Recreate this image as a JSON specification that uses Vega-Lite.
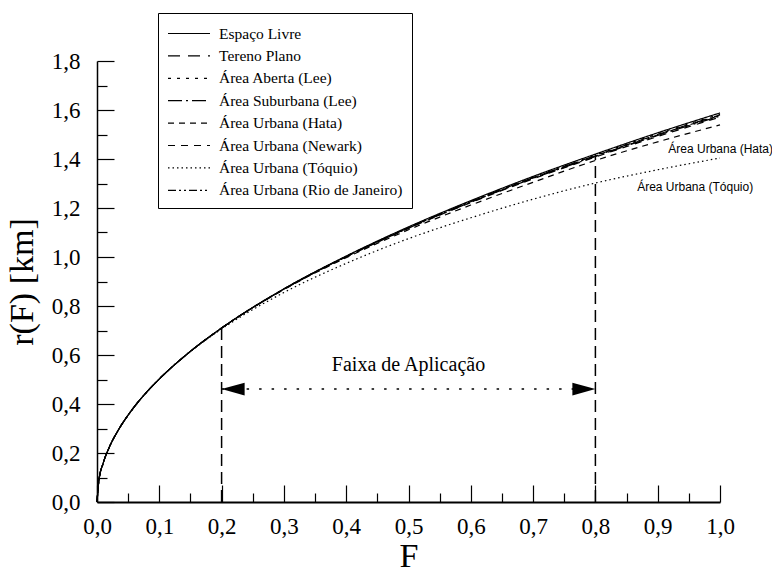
{
  "$schema": "https://vega.github.io/schema/vega-lite/v6.json",
  "width": 623,
  "height": 441,
  "autosize": {"type": "none"},
  "padding": {"left": 97, "top": 61, "right": 52, "bottom": 74},
  "background": "white",
  "config": {
    "view": {"stroke": null},
    "font": "Liberation Serif",
    "axis": {"grid": false, "tickColor": "black", "domainColor": "black", "labelColor": "black", "titleColor": "black"}
  },
  "datasets": {
    "curves": [
      {"F": 0, "s": "a", "r": 0}, {"F": 0.003, "s": "a", "r": 0.087}, {"F": 0.01, "s": "a", "r": 0.159}, {"F": 0.02, "s": "a", "r": 0.225}, {"F": 0.035, "s": "a", "r": 0.297}, {"F": 0.05, "s": "a", "r": 0.355}, {"F": 0.075, "s": "a", "r": 0.435}, {"F": 0.1, "s": "a", "r": 0.502}, {"F": 0.15, "s": "a", "r": 0.615}, {"F": 0.2, "s": "a", "r": 0.71}, {"F": 0.3, "s": "a", "r": 0.87}, {"F": 0.4, "s": "a", "r": 1.004}, {"F": 0.5, "s": "a", "r": 1.123}, {"F": 0.6, "s": "a", "r": 1.23}, {"F": 0.7, "s": "a", "r": 1.329}, {"F": 0.8, "s": "a", "r": 1.42}, {"F": 0.9, "s": "a", "r": 1.507}, {"F": 1.0, "s": "a", "r": 1.588},
      {"F": 0, "s": "b", "r": 0}, {"F": 0.003, "s": "b", "r": 0.087}, {"F": 0.01, "s": "b", "r": 0.159}, {"F": 0.02, "s": "b", "r": 0.225}, {"F": 0.035, "s": "b", "r": 0.297}, {"F": 0.05, "s": "b", "r": 0.355}, {"F": 0.075, "s": "b", "r": 0.435}, {"F": 0.1, "s": "b", "r": 0.502}, {"F": 0.15, "s": "b", "r": 0.615}, {"F": 0.2, "s": "b", "r": 0.71}, {"F": 0.3, "s": "b", "r": 0.869}, {"F": 0.4, "s": "b", "r": 1.002}, {"F": 0.5, "s": "b", "r": 1.12}, {"F": 0.6, "s": "b", "r": 1.226}, {"F": 0.7, "s": "b", "r": 1.324}, {"F": 0.8, "s": "b", "r": 1.414}, {"F": 0.9, "s": "b", "r": 1.5}, {"F": 1.0, "s": "b", "r": 1.58},
      {"F": 0, "s": "c", "r": 0}, {"F": 0.003, "s": "c", "r": 0.087}, {"F": 0.01, "s": "c", "r": 0.159}, {"F": 0.02, "s": "c", "r": 0.225}, {"F": 0.035, "s": "c", "r": 0.297}, {"F": 0.05, "s": "c", "r": 0.355}, {"F": 0.075, "s": "c", "r": 0.435}, {"F": 0.1, "s": "c", "r": 0.502}, {"F": 0.15, "s": "c", "r": 0.615}, {"F": 0.2, "s": "c", "r": 0.71}, {"F": 0.3, "s": "c", "r": 0.87}, {"F": 0.4, "s": "c", "r": 1.003}, {"F": 0.5, "s": "c", "r": 1.121}, {"F": 0.6, "s": "c", "r": 1.228}, {"F": 0.7, "s": "c", "r": 1.326}, {"F": 0.8, "s": "c", "r": 1.416}, {"F": 0.9, "s": "c", "r": 1.503}, {"F": 1.0, "s": "c", "r": 1.583},
      {"F": 0, "s": "d", "r": 0}, {"F": 0.003, "s": "d", "r": 0.087}, {"F": 0.01, "s": "d", "r": 0.159}, {"F": 0.02, "s": "d", "r": 0.225}, {"F": 0.035, "s": "d", "r": 0.297}, {"F": 0.05, "s": "d", "r": 0.355}, {"F": 0.075, "s": "d", "r": 0.435}, {"F": 0.1, "s": "d", "r": 0.502}, {"F": 0.15, "s": "d", "r": 0.615}, {"F": 0.2, "s": "d", "r": 0.71}, {"F": 0.3, "s": "d", "r": 0.869}, {"F": 0.4, "s": "d", "r": 1.001}, {"F": 0.5, "s": "d", "r": 1.118}, {"F": 0.6, "s": "d", "r": 1.224}, {"F": 0.7, "s": "d", "r": 1.321}, {"F": 0.8, "s": "d", "r": 1.41}, {"F": 0.9, "s": "d", "r": 1.496}, {"F": 1.0, "s": "d", "r": 1.575},
      {"F": 0, "s": "e", "r": 0}, {"F": 0.003, "s": "e", "r": 0.087}, {"F": 0.01, "s": "e", "r": 0.159}, {"F": 0.02, "s": "e", "r": 0.225}, {"F": 0.035, "s": "e", "r": 0.297}, {"F": 0.05, "s": "e", "r": 0.355}, {"F": 0.075, "s": "e", "r": 0.435}, {"F": 0.1, "s": "e", "r": 0.502}, {"F": 0.15, "s": "e", "r": 0.615}, {"F": 0.2, "s": "e", "r": 0.71}, {"F": 0.3, "s": "e", "r": 0.867}, {"F": 0.4, "s": "e", "r": 0.997}, {"F": 0.5, "s": "e", "r": 1.111}, {"F": 0.6, "s": "e", "r": 1.212}, {"F": 0.7, "s": "e", "r": 1.305}, {"F": 0.8, "s": "e", "r": 1.394}, {"F": 0.9, "s": "e", "r": 1.47}, {"F": 1.0, "s": "e", "r": 1.539},
      {"F": 0, "s": "f", "r": 0}, {"F": 0.003, "s": "f", "r": 0.087}, {"F": 0.01, "s": "f", "r": 0.159}, {"F": 0.02, "s": "f", "r": 0.225}, {"F": 0.035, "s": "f", "r": 0.297}, {"F": 0.05, "s": "f", "r": 0.355}, {"F": 0.075, "s": "f", "r": 0.435}, {"F": 0.1, "s": "f", "r": 0.502}, {"F": 0.15, "s": "f", "r": 0.615}, {"F": 0.2, "s": "f", "r": 0.71}, {"F": 0.3, "s": "f", "r": 0.868}, {"F": 0.4, "s": "f", "r": 1.0}, {"F": 0.5, "s": "f", "r": 1.117}, {"F": 0.6, "s": "f", "r": 1.222}, {"F": 0.7, "s": "f", "r": 1.319}, {"F": 0.8, "s": "f", "r": 1.408}, {"F": 0.9, "s": "f", "r": 1.492}, {"F": 1.0, "s": "f", "r": 1.571},
      {"F": 0, "s": "g", "r": 0}, {"F": 0.003, "s": "g", "r": 0.087}, {"F": 0.01, "s": "g", "r": 0.159}, {"F": 0.02, "s": "g", "r": 0.225}, {"F": 0.035, "s": "g", "r": 0.297}, {"F": 0.05, "s": "g", "r": 0.355}, {"F": 0.075, "s": "g", "r": 0.435}, {"F": 0.1, "s": "g", "r": 0.502}, {"F": 0.15, "s": "g", "r": 0.614}, {"F": 0.2, "s": "g", "r": 0.706}, {"F": 0.3, "s": "g", "r": 0.855}, {"F": 0.4, "s": "g", "r": 0.974}, {"F": 0.5, "s": "g", "r": 1.075}, {"F": 0.6, "s": "g", "r": 1.16}, {"F": 0.7, "s": "g", "r": 1.236}, {"F": 0.8, "s": "g", "r": 1.302}, {"F": 0.9, "s": "g", "r": 1.356}, {"F": 1.0, "s": "g", "r": 1.404},
      {"F": 0, "s": "h", "r": 0}, {"F": 0.003, "s": "h", "r": 0.087}, {"F": 0.01, "s": "h", "r": 0.159}, {"F": 0.02, "s": "h", "r": 0.225}, {"F": 0.035, "s": "h", "r": 0.297}, {"F": 0.05, "s": "h", "r": 0.355}, {"F": 0.075, "s": "h", "r": 0.435}, {"F": 0.1, "s": "h", "r": 0.502}, {"F": 0.15, "s": "h", "r": 0.615}, {"F": 0.2, "s": "h", "r": 0.71}, {"F": 0.3, "s": "h", "r": 0.869}, {"F": 0.4, "s": "h", "r": 1.002}, {"F": 0.5, "s": "h", "r": 1.119}, {"F": 0.6, "s": "h", "r": 1.225}, {"F": 0.7, "s": "h", "r": 1.323}, {"F": 0.8, "s": "h", "r": 1.412}, {"F": 0.9, "s": "h", "r": 1.498}, {"F": 1.0, "s": "h", "r": 1.578}
    ],
    "guides": [{"F": 0.2, "r0": 0, "r1": 0.71}, {"F": 0.8, "r0": 0, "r1": 1.42}],
    "span": [{"F": 0.2, "F2": 0.8, "r": 0.461}],
    "heads": [{"F": 0.2, "r": 0.461, "side": "left"}, {"F": 0.8, "r": 0.461, "side": "right"}],
    "title": [{"F": 0.5, "r": 0.559, "t": "Faixa de Aplicação"}],
    "labels": [{"F": 0.917, "r": 1.441, "t": "Área Urbana (Hata)"}, {"F": 0.867, "r": 1.286, "t": "Área Urbana (Tóquio)"}]
  },
  "resolve": {"axis": {"x": "independent", "y": "independent"}},
  "layer": [
    {
      "data": {"name": "curves"},
      "mark": {"type": "line", "color": "black", "strokeWidth": 1.2, "interpolate": "monotone"},
      "encoding": {
        "x": {"field": "F", "type": "quantitative", "scale": {"domain": [0, 1], "nice": false, "zero": false},
          "axis": {"orient": "bottom", "values": [0, 0.1, 0.2, 0.3, 0.4, 0.5, 0.6, 0.7, 0.8, 0.9, 1.0], "ticks": false,
            "labelExpr": "replace(format(datum.value, '.1f'), '.', ',')", "labelFont": "Liberation Serif", "labelFontSize": 23,
            "labelPadding": 13, "labelFlush": false, "labelOverlap": false, "domainWidth": 1.8,
            "title": "F", "titleFont": "Liberation Serif", "titleFontSize": 34, "titleFontWeight": "normal", "titlePadding": 1}},
        "y": {"field": "r", "type": "quantitative", "scale": {"domain": [0, 1.8], "nice": false, "zero": false},
          "axis": {"orient": "left", "values": [0, 0.2, 0.4, 0.6, 0.8, 1.0, 1.2, 1.4, 1.6, 1.8], "ticks": false,
            "labelExpr": "replace(format(datum.value, '.1f'), '.', ',')", "labelFont": "Liberation Serif", "labelFontSize": 23,
            "labelPadding": 17, "labelFlush": false, "labelOverlap": false, "domainWidth": 1.5,
            "title": "r(F) [km]", "titleFont": "Liberation Serif", "titleFontSize": 34, "titleFontWeight": "normal", "titlePadding": 12}},
        "order": {"field": "F", "type": "quantitative"},
        "strokeDash": {"field": "s", "type": "nominal",
          "scale": {"domain": ["a", "b", "c", "d", "e", "f", "g", "h"],
            "range": [[1, 0], [12, 8], [3, 6], [14, 4, 2, 4], [6, 5], [7, 6], [1.5, 3], [8, 3, 2, 3, 2, 3]]},
          "legend": {"orient": "none", "legendX": 61, "legendY": -48, "title": null,
            "symbolType": "M-1,0H3", "symbolSize": 441, "symbolStrokeWidth": 1.2, "symbolStrokeColor": "black",
            "labelFont": "Liberation Serif", "labelFontSize": 15.5, "labelOffset": 29, "labelColor": "black", "labelLimit": 400,
            "rowPadding": 2.4, "padding": 9, "strokeColor": "black", "fillColor": "white",
            "labelExpr": "datum.value == 'a' ? 'Espaço Livre' : datum.value == 'b' ? 'Tereno Plano' : datum.value == 'c' ? 'Área Aberta (Lee)' : datum.value == 'd' ? 'Área Suburbana (Lee)' : datum.value == 'e' ? 'Área Urbana (Hata)' : datum.value == 'f' ? 'Área Urbana (Newark)' : datum.value == 'g' ? 'Área Urbana (Tóquio)' : 'Área Urbana (Rio de Janeiro)'"}}
      }
    },
    {
      "data": {"name": "guides"},
      "mark": {"type": "rule", "color": "black", "strokeWidth": 1.5, "strokeDash": [12, 6]},
      "encoding": {
        "x": {"field": "F", "type": "quantitative",
          "axis": {"orient": "bottom", "values": [0, 0.1, 0.2, 0.3, 0.4, 0.5, 0.6, 0.7, 0.8, 0.9, 1.0], "tickSize": -17, "tickWidth": 1.2,
            "labels": false, "domain": false, "title": null}},
        "y": {"field": "r0", "type": "quantitative",
          "axis": {"orient": "left", "values": [0, 0.2, 0.4, 0.6, 0.8, 1.0, 1.2, 1.4, 1.6, 1.8], "tickSize": -17, "tickWidth": 1.2,
            "labels": false, "domain": false, "title": null}},
        "y2": {"field": "r1"}
      }
    },
    {
      "data": {"name": "span"},
      "mark": {"type": "rule", "color": "black", "strokeWidth": 1.5, "strokeDash": [2.5, 10]},
      "encoding": {
        "x": {"field": "F", "type": "quantitative",
          "axis": {"orient": "bottom", "values": [0.05, 0.15, 0.25, 0.35, 0.45, 0.55, 0.65, 0.75, 0.85, 0.95], "tickSize": -9, "tickWidth": 1.2,
            "labels": false, "domain": false, "title": null}},
        "x2": {"field": "F2"},
        "y": {"field": "r", "type": "quantitative",
          "axis": {"orient": "left", "values": [0.1, 0.3, 0.5, 0.7, 0.9, 1.1, 1.3, 1.5, 1.7], "tickSize": -10, "tickWidth": 1.2,
            "labels": false, "domain": false, "title": null}}
      }
    },
    {
      "data": {"name": "heads"},
      "mark": {"type": "point", "filled": true, "color": "black", "opacity": 1, "size": 529},
      "encoding": {
        "x": {"field": "F", "type": "quantitative", "axis": null},
        "y": {"field": "r", "type": "quantitative", "axis": null},
        "shape": {"field": "side", "type": "nominal", "scale": {"domain": ["left", "right"], "range": ["M0,0L2,-0.55L2,0.55Z", "M0,0L-2,-0.55L-2,0.55Z"]}, "legend": null}
      }
    },
    {
      "data": {"name": "title"},
      "mark": {"type": "text", "font": "Liberation Serif", "fontSize": 20, "color": "black", "align": "center", "baseline": "middle"},
      "encoding": {
        "x": {"field": "F", "type": "quantitative", "axis": null},
        "y": {"field": "r", "type": "quantitative", "axis": null},
        "text": {"field": "t"}
      }
    },
    {
      "data": {"name": "labels"},
      "mark": {"type": "text", "font": "Liberation Sans", "fontSize": 12, "color": "black", "align": "left", "baseline": "middle"},
      "encoding": {
        "x": {"field": "F", "type": "quantitative", "axis": null},
        "y": {"field": "r", "type": "quantitative", "axis": null},
        "text": {"field": "t"}
      }
    }
  ]
}
